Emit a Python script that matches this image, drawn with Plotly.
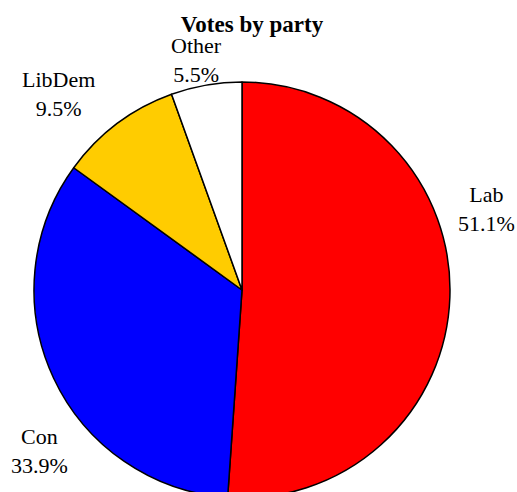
import math
import plotly.graph_objects as go

parties = ["Lab", "Con", "LibDem", "Other"]
shares = [51.1, 33.9, 9.5, 5.5]
colors = ["#ff0000", "#0000ff", "#ffcc00", "#ffffff"]

W, H = 517, 498
L, R, T, B = 34, 67, 82, 0
PW, PH = W - L - R, H - T - B

# label placement style: fraction along each slice and radial distance (in radii)
label_frac = [0.39, 0.39, 0.32, 0.44]
label_dist = [1.24, 1.245, 1.29, 1.125]

fig = go.Figure(go.Pie(
    labels=parties,
    values=shares,
    sort=False,
    direction="clockwise",
    rotation=0,
    automargin=False,
    marker=dict(colors=colors, line=dict(color="#000000", width=1.5)),
    textinfo="none",
    showlegend=False,
    hoverinfo="label+percent",
))

# labels positioned from the slice angles derived from the data
total = sum(shares)
cx, cy = L + PW / 2, T + PH / 2
rad = min(PW, PH) / 2
annotations = []
start = 0.0
for name, v, f, d in zip(parties, shares, label_frac, label_dist):
    span = v / total * 360.0
    theta = math.radians(start + f * span)
    px = cx + d * rad * math.sin(theta)
    py = cy - d * rad * math.cos(theta)
    annotations.append(dict(
        text=f"{name}<br>{v / total * 100:.1f}%",
        x=(px - L) / PW, y=1 - (py - T) / PH,
        xref="paper", yref="paper",
        xanchor="center", yanchor="middle",
        showarrow=False, align="center",
        font=dict(family="Liberation Serif", size=22, color="#000000"),
    ))
    start += span

fig.update_layout(
    width=W, height=H,
    margin=dict(l=L, r=R, t=T, b=B, autoexpand=False),
    paper_bgcolor="white",
    plot_bgcolor="white",
    font=dict(family="Liberation Serif", color="#000000"),
    annotations=annotations,
    title=dict(text="<b>Votes by party</b>", x=252 / W, xanchor="center",
               y=1 - 24 / H, yanchor="middle", yref="container",
               font=dict(family="Liberation Serif", size=23, color="#000000")),
)

fig.write_html(
    "out.html",
    config={"displayModeBar": False},
    post_script="document.body.style.margin='0px';document.body.style.overflow='hidden';",
)
